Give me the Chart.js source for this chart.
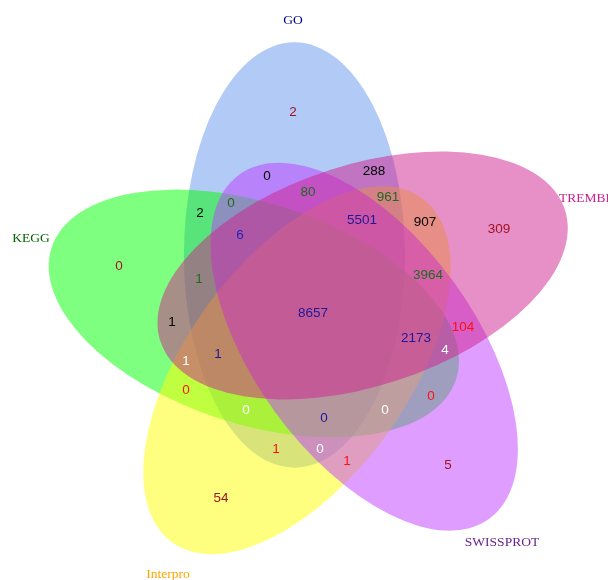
<!DOCTYPE html>
<html>
<head>
<meta charset="utf-8">
<script src="https://cdn.jsdelivr.net/npm/chart.js@4/dist/chart.umd.min.js"></script>
<style>
    html, body { margin: 0; padding: 0; background: #fff; }
    canvas { display: block; }
</style>
</head>
<body>
<canvas id="venn" width="608" height="580"></canvas>
<script>
// Ensembles, dans l'ordre de dessin (GO en haut, puis sens anti-horaire)
const setNames = ['GO', 'KEGG', 'Interpro', 'SWISSPROT', 'TREMBL'];

// Effectifs des 31 zones du diagramme
const regionCounts = [
    2, 0, 288, 80, 961, 0, 2, 5501, 907, 309,
    6, 0, 1, 3964, 8657, 1, 104, 2173, 4, 1,
    1, 0, 0, 0, 0, 0, 1, 0, 1, 5, 54
];

// Mise en page : position de chaque effectif (repère pixel du graphique)
const regionX = [
    293, 267, 374, 308, 388, 231, 200, 362, 425, 499,
    240, 119, 199, 428, 313, 172, 463, 416, 445, 186,
    218, 186, 431, 246, 385, 324, 276, 320, 347, 448, 221
];
const regionY = [
    112, 176, 171, 192, 197, 203, 213, 220, 222, 229,
    235, 266, 279, 275, 313, 322, 327, 338, 350, 361,
    354, 390, 396, 410, 410, 418, 449, 449, 461, 465, 498
];
const regionColors = [
    '#a01424', '#000', '#000', '#1f6b1f', '#1f6b1f', '#1f6b1f', '#000', '#22179a', '#000', '#a01424',
    '#2424b8', '#a01424', '#1f6b1f', '#1f6b1f', '#22179a', '#000', '#ff1010', '#22179a', '#fff', '#fff',
    '#22179a', '#ff1010', '#ff1010', '#fff', '#fff', '#22179a', '#ff1010', '#fff', '#ff1010', '#a01424', '#a01424'
];

// Ellipses : rotation (degrés, sens horaire) autour du centre commun
const setRotation = [0, 288, 216, 144, 72];
const setFill = [
    'rgba(100,149,237,0.5)',
    'rgba(0,255,0,0.5)',
    'rgba(255,255,0,0.5)',
    'rgba(191,62,255,0.5)',
    'rgba(208,32,144,0.5)'
];
const setLabelColor = ['#00008b', '#006400', '#ffa500', '#68228b', '#d02090'];
const setLabelX = [293, 31, 168, 502, 559];
const setLabelY = [20, 238, 574, 542, 198];
const setLabelAlign = ['center', 'center', 'center', 'center', 'left'];

const centre = { x: 314.4, y: 312.2 };
const offset = { x: -20.0, y: -57.2 };
const semiMinor = 110.5;
const semiMajor = 212.7;

const ellipses = {
    id: 'ellipses',
    beforeDatasetsDraw(chart) {
        const ctx = chart.ctx;
        const sx = chart.scales.x;
        const sy = chart.scales.y;
        const kx = Math.abs(sx.getPixelForValue(1) - sx.getPixelForValue(0));
        const ky = Math.abs(sy.getPixelForValue(1) - sy.getPixelForValue(0));

        ctx.save();
        setNames.forEach((name, i) => {
            const r = setRotation[i] * Math.PI / 180;
            const cx = centre.x + offset.x * Math.cos(r) - offset.y * Math.sin(r);
            const cy = centre.y + offset.x * Math.sin(r) + offset.y * Math.cos(r);
            ctx.beginPath();
            ctx.ellipse(sx.getPixelForValue(cx), sy.getPixelForValue(cy),
                semiMinor * kx, semiMajor * ky, r, 0, Math.PI * 2);
            ctx.fillStyle = setFill[i];
            ctx.fill();
        });
        ctx.restore();
    }
};

const labels = {
    id: 'labels',
    afterDatasetsDraw(chart) {
        const ctx = chart.ctx;
        const sx = chart.scales.x;
        const sy = chart.scales.y;

        ctx.save();
        ctx.textBaseline = 'middle';
        ctx.textAlign = 'center';
        ctx.font = '13.5px "Liberation Sans", Arial, sans-serif';
        chart.getDatasetMeta(0).data.forEach((pt, i) => {
            ctx.fillStyle = regionColors[i];
            ctx.fillText(String(regionCounts[i]), pt.x, pt.y);
        });

        ctx.font = '13.5px "Liberation Serif", "Times New Roman", serif';
        setNames.forEach((name, i) => {
            ctx.fillStyle = setLabelColor[i];
            ctx.textAlign = setLabelAlign[i];
            ctx.fillText(name, sx.getPixelForValue(setLabelX[i]), sy.getPixelForValue(setLabelY[i]));
        });
        ctx.restore();
    }
};

new Chart(document.getElementById('venn'), {
    type: 'scatter',
    data: {
        datasets: [{
            data: regionCounts.map((n, i) => ({ x: regionX[i], y: regionY[i], n: n })),
            pointRadius: 0,
            pointHoverRadius: 0
        }]
    },
    options: {
        responsive: false,
        animation: false,
        events: [],
        layout: { padding: 0 },
        plugins: {
            legend: { display: false },
            tooltip: { enabled: false }
        },
        scales: {
            x: { type: 'linear', min: 0, max: 608, display: false },
            y: { type: 'linear', min: 0, max: 580, reverse: true, display: false }
        }
    },
    plugins: [ellipses, labels]
});
</script>
</body>
</html>
